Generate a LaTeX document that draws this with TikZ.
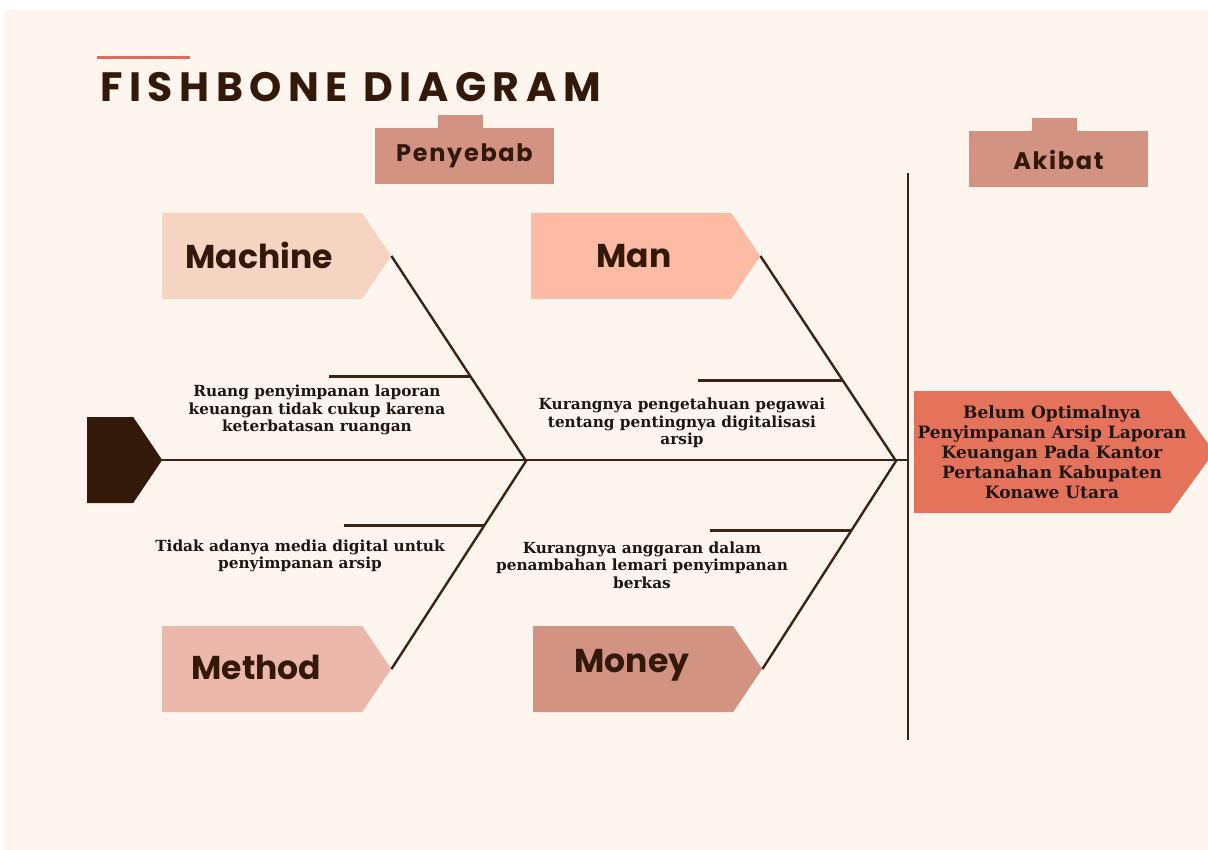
\documentclass[tikz,border=0pt]{standalone}
\usepackage{fontspec}
\usepackage{tikz}
\usetikzlibrary{positioning,shapes.symbols,calc}
\newfontfamily\headfont{Poppins}[LetterSpace=16]
\newfontfamily\catfont{Poppins}
\newfontfamily\tabfont{Poppins}[LetterSpace=7]
\newfontfamily\notefont{DejaVu Serif}
\definecolor{cream}{HTML}{FEF5EE}
\definecolor{ink}{HTML}{33190A}
\definecolor{bonecol}{HTML}{3B2416}
\definecolor{notecol}{HTML}{1F1612}
\definecolor{rose}{HTML}{D29383}
\definecolor{peach}{HTML}{F5D5C2}
\definecolor{salmon}{HTML}{FDBBA6}
\definecolor{blush}{HTML}{ECB8AC}
\definecolor{coral}{HTML}{E5735C}
\definecolor{accent}{HTML}{E26B57}

\begin{document}
\begin{tikzpicture}[x=1pt, y=-1pt,
  cat/.style={signal, signal to=east, signal pointer angle=112, fill=#1,
              minimum width=229pt, minimum height=86pt, inner sep=0pt, anchor=west},
  catlbl/.style={font=\catfont\bfseries\fontsize{33}{33}\selectfont, text=ink, anchor=base west},
  tabbox/.style={fill=rose, minimum width=179pt, minimum height=56pt, inner sep=0pt,
                 font=\tabfont\bfseries\fontsize{24}{24}\selectfont, text=ink},
  tabtop/.style={fill=rose, minimum width=45pt, minimum height=13pt, inner sep=0pt},
  bone/.style={draw=bonecol, line width=2.4pt},
  note/.style={font=\notefont\bfseries\fontsize{15.3}{17.5}\selectfont, align=center, text=notecol}]
\useasboundingbox (0,0) rectangle (1208,850);
\clip (0,0) rectangle (1208,850);
\fill[white] (0,0) rectangle (1208,850);
\fill[cream] (4,10) rectangle (1208,850);

% title
\draw[accent, line width=3pt] (97,58) -- (190,58);
\node[font=\headfont\bfseries\fontsize{41}{41}\selectfont, text=ink, anchor=base west,
      inner sep=0pt] (title) at (100,102) {FISHBONE DIAGRAM};

% headers
\node[tabbox] (cause) at (464.5,156) {Penyebab};
\node[tabtop, above=0pt of cause.north, xshift=-4pt] (causetab) {};
\node[tabbox] (effect) at (1058.5,159.5) {Akibat};
\node[tabtop, above=0pt of effect.north, xshift=-4pt] (effecttab) {};

% categories
\node[cat=peach] (machine) at (162,256) {};
\node[catlbl] at (182,269) {Machine};
\node[cat=salmon] (man) at (531,256) {};
\node[catlbl] at (593,268) {Man};
\node[cat=blush] (method) at (162,669) {};
\node[catlbl] at (188,679) {Method};
\node[cat=rose] (money) at (533,669) {};
\node[catlbl] at (571,672) {Money};

% tail and head
\node[signal, signal to=east, signal pointer angle=112, fill=ink, minimum width=75pt,
      minimum height=86pt, inner sep=0pt, anchor=west] (tail) at (87,460) {};
\node[signal, signal to=east, signal pointer angle=108, fill=coral, minimum width=300pt,
      minimum height=122pt, inner sep=0pt, anchor=west] (head) at (914,452) {};
\node[font=\notefont\bfseries\fontsize{17}{20}\selectfont, align=center, text=notecol]
  (effecttxt) at (1052,452) {Belum Optimalnya\\Penyimpanan Arsip Laporan\\Keuangan Pada Kantor\\Pertanahan Kabupaten\\Konawe Utara};

% spine and bones
\coordinate (vtop) at (908,173);
\coordinate (vbot) at (908,740);
\coordinate (jl) at (526,461);
\coordinate (jr) at (896,461);
\draw[bone] (vtop) -- (vbot);
\draw[bone] (tail.east) -- (vtop |- tail.east);
\draw[bone] (machine.east) -- (jl) -- (method.east);
\draw[bone] (man.east) -- (jr) -- (money.east);

\coordinate (m1) at ($(machine.east)!0.588!(jl)$);
\coordinate (m2) at ($(jl)!0.311!(method.east)$);
\coordinate (m3) at ($(man.east)!0.608!(jr)$);
\coordinate (m4) at ($(jr)!0.335!(money.east)$);
\draw[bone] (m1) -- ++(-142,0);
\draw[bone] (m2) -- ++(-140,0);
\draw[bone] (m3) -- ++(-145,0);
\draw[bone] (m4) -- ++(-141,0);

% causes
\node[note] (c1) at (317,410) {Ruang penyimpanan laporan\\keuangan tidak cukup karena\\keterbatasan ruangan};
\node[note] (c2) at (300,556) {Tidak adanya media digital untuk\\penyimpanan arsip};
\node[note] (c3) at (682,423) {Kurangnya pengetahuan pegawai\\tentang pentingnya digitalisasi\\arsip};
\node[note] (c4) at (642,565) {Kurangnya anggaran dalam\\penambahan lemari penyimpanan\\berkas};
\end{tikzpicture}
\end{document}
